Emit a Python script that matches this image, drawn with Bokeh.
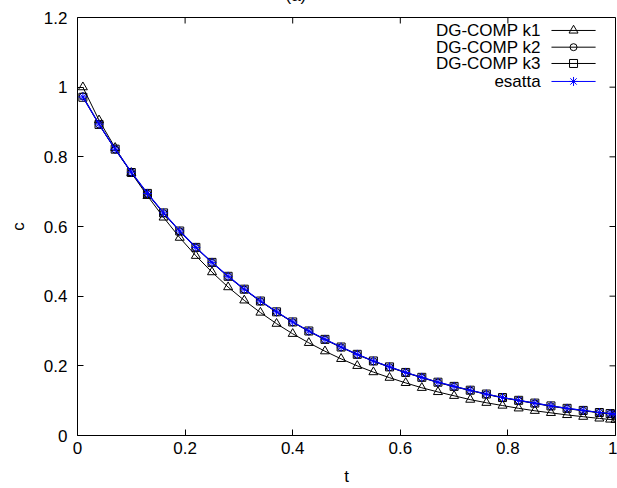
import math

from bokeh.plotting import figure
from bokeh.models import Range1d, FixedTicker, ColumnDataSource
from bokeh.embed import file_html
from bokeh.resources import INLINE
from bokeh.core.properties import value

# time samples
t = [0.01, 0.04, 0.07, 0.10, 0.13, 0.16, 0.19, 0.22, 0.25, 0.28, 0.31, 0.34,
     0.37, 0.40, 0.43, 0.46, 0.49, 0.52, 0.55, 0.58, 0.61, 0.64, 0.67, 0.70,
     0.73, 0.76, 0.79, 0.82, 0.85, 0.88, 0.91, 0.94, 0.97, 0.99, 1.00]

# DG-COMP solutions for polynomial degree k = 1, 2, 3 and the exact solution
c_k1 = [1.000, 0.905, 0.826, 0.754, 0.688, 0.626, 0.568, 0.516, 0.469, 0.426,
        0.388, 0.353, 0.321, 0.292, 0.266, 0.242, 0.220, 0.200, 0.182, 0.166,
        0.151, 0.137, 0.125, 0.114, 0.103, 0.094, 0.086, 0.078, 0.071, 0.065,
        0.059, 0.054, 0.049, 0.046, 0.045]
c_k2 = [0.974, 0.893, 0.821, 0.755, 0.694, 0.638, 0.586, 0.539, 0.496, 0.456,
        0.419, 0.385, 0.354, 0.325, 0.299, 0.275, 0.253, 0.232, 0.213, 0.196,
        0.180, 0.166, 0.152, 0.140, 0.129, 0.118, 0.108, 0.100, 0.092, 0.084,
        0.077, 0.071, 0.065, 0.062, 0.060]
c_k3 = [0.971, 0.893, 0.822, 0.755, 0.695, 0.639, 0.587, 0.540, 0.497, 0.457,
        0.420, 0.386, 0.355, 0.326, 0.300, 0.276, 0.254, 0.233, 0.214, 0.197,
        0.181, 0.167, 0.153, 0.141, 0.130, 0.119, 0.109, 0.101, 0.093, 0.085,
        0.078, 0.072, 0.066, 0.063, 0.061]
c_exact = [0.972, 0.894, 0.822, 0.756, 0.695, 0.639, 0.587, 0.540, 0.497, 0.457,
           0.420, 0.386, 0.355, 0.326, 0.300, 0.276, 0.254, 0.233, 0.214, 0.197,
           0.181, 0.167, 0.153, 0.141, 0.130, 0.119, 0.109, 0.101, 0.093, 0.085,
           0.078, 0.072, 0.066, 0.063, 0.061]

panel_title = "(a)"
series_labels = ["DG-COMP k1", "DG-COMP k2", "DG-COMP k3", "esatta"]
x_ticks = [0, 0.2, 0.4, 0.6, 0.8, 1.0]
x_tick_labels = ["0", "0.2", "0.4", "0.6", "0.8", "1"]
y_ticks = [0, 0.2, 0.4, 0.6, 0.8, 1.0, 1.2]
y_tick_labels = ["0", "0.2", "0.4", "0.6", "0.8", "1", "1.2"]

FONT = "Liberation Sans"
FS = "17px"
BLUE = "#0000ff"
TICK = 6
SHIFT = 30  # the canvas is pulled up so the title sits on the page's top edge

x0, x1 = 0.0, 1.0
y0, y1 = 0.0, 1.2

p = figure(width=617, height=488 + SHIFT, x_range=Range1d(x0, x1), y_range=Range1d(y0, y1),
           output_backend="svg", toolbar_location=None,
           min_border_left=77, min_border_right=2, min_border_top=17 + SHIFT,
           min_border_bottom=53)
p.margin = (-SHIFT, 0, 0, 0)
p.background_fill_color = "white"
p.border_fill_color = "white"
p.outline_line_color = "black"
p.outline_line_width = 1
p.xgrid.visible = False
p.ygrid.visible = False

# panel title
p.title.text = panel_title
p.title.text_font = FONT
p.title.text_font_size = FS
p.title.text_font_style = "normal"
p.title.text_color = "black"
p.title.align = "left"
p.title.offset = 208
p.title.standoff = 26
p.title.vertical_align = "bottom"

p.xaxis.ticker = FixedTicker(ticks=x_ticks)
p.xaxis.major_label_overrides = dict(zip(x_ticks, x_tick_labels))
p.yaxis.ticker = FixedTicker(ticks=y_ticks)
p.yaxis.major_label_overrides = dict(zip(y_ticks, y_tick_labels))

for ax in p.xaxis + p.yaxis:
    ax.axis_line_color = None
    ax.major_tick_in = TICK
    ax.major_tick_out = 0
    ax.major_tick_line_color = "black"
    ax.minor_tick_line_color = None
    ax.major_label_text_font = FONT
    ax.major_label_text_font_size = FS
    ax.major_label_text_color = "black"
    ax.axis_label_text_font = FONT
    ax.axis_label_text_font_size = FS
    ax.axis_label_text_font_style = "normal"
    ax.axis_label_text_color = "black"

p.xaxis.axis_label = "t"
p.xaxis.major_label_standoff = 6
p.xaxis.axis_label_standoff = 10
p.yaxis.axis_label = "c"
p.yaxis.major_label_standoff = 10
p.yaxis.axis_label_standoff = 13

# mirrored inward ticks on the top and right edges of the frame
p.ray(x=x_ticks, y=[y1] * len(x_ticks), length=TICK, length_units="screen",
      angle=-math.pi / 2, line_color="black", line_width=1)
p.ray(x=[x1] * len(y_ticks), y=y_ticks, length=TICK, length_units="screen",
      angle=math.pi, line_color="black", line_width=1)

# curves
src = ColumnDataSource(dict(t=t, k1=c_k1, k2=c_k2, k3=c_k3, ex=c_exact))
p.line("t", "k1", source=src, line_color="black", line_width=1)
p.scatter("t", "k1", source=src, marker="triangle", size=9, fill_color=None,
          line_color="black", line_width=1)
p.line("t", "k2", source=src, line_color="black", line_width=1)
p.scatter("t", "k2", source=src, marker="circle", size=7, fill_color=None,
          line_color="black", line_width=1)
p.line("t", "k3", source=src, line_color="black", line_width=1)
p.scatter("t", "k3", source=src, marker="square", size=8, fill_color=None,
          line_color="black", line_width=1)
p.line("t", "ex", source=src, line_color=BLUE, line_width=1.2)
p.scatter("t", "ex", source=src, marker="asterisk", size=9,
          line_color=BLUE, line_width=1)

# key in the upper right corner: label, then line sample with marker
def fx(f):
    return x0 + f * (x1 - x0)

def fy(f):
    return y0 + f * (y1 - y0)

key_rows = [fy(0.969), fy(0.929), fy(0.890), fy(0.847)]
key_text_x = fx(0.861)
key_line = (fx(0.881), fx(0.963))
key_mark_x = fx(0.922)
key_styles = [("black", "triangle", 9), ("black", "circle", 7),
              ("black", "square", 8), (BLUE, "asterisk", 9)]

p.text(x=[key_text_x] * 4, y=key_rows, text=series_labels,
       text_font=value(FONT), text_font_size=FS, text_align="right",
       text_baseline="middle", text_color="black")
for yk, (col, mk, sz) in zip(key_rows, key_styles):
    p.line(x=list(key_line), y=[yk, yk], line_color=col, line_width=1)
    p.scatter(x=[key_mark_x], y=[yk], marker=mk, size=sz, fill_color=None,
              line_color=col, line_width=1)

open("out.html", "w").write(file_html(p, INLINE))
